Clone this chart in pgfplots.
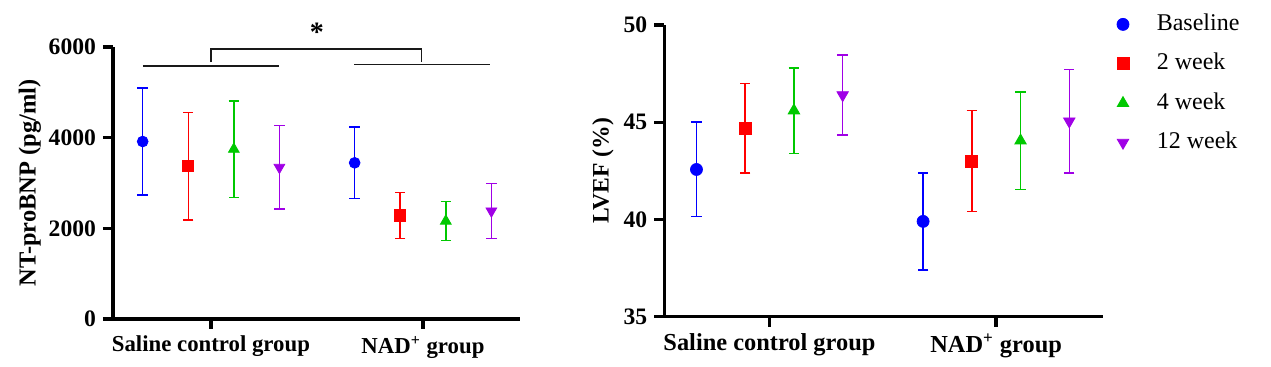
\documentclass[border=0pt]{standalone}
\usepackage{fontspec}
\setmainfont{Liberation Serif}
\usepackage{pgfplots}
\pgfplotsset{compat=1.18}
\definecolor{cB}{RGB}{0,0,255}
\definecolor{cR}{RGB}{255,0,0}
\definecolor{cG}{RGB}{0,200,0}
\definecolor{cP}{RGB}{160,0,230}
\newcommand{\lblfont}{\bfseries\fontsize{11.8}{14}\selectfont}
\pgfplotsset{
  panel/.style={
    scale only axis, axis lines*=left,
    axis line style={-, line width=1.6pt, black},
    every tick/.style={line width=1.6pt, black},
    tick align=outside, major tick length=5pt,
    xtick={0,1}, xticklabels={Saline control group, NAD\textsuperscript{+} group},
    ticklabel style={font=\lblfont},
    /pgf/number format/assume math mode=true,
    /pgf/number format/set thousands separator={},
    ylabel style={font=\lblfont, anchor=center},
    clip=false,
  },
  ser/.style n args={4}{only marks, color=#1, mark=#2,
    mark options={fill=#1, draw=#1, mark size=#3, #4},
    /pgfplots/error bars/y dir=both, /pgfplots/error bars/y explicit,
    /pgfplots/error bars/error bar style={line width=0.75pt, #1},
    /pgfplots/error bars/error mark options={rotate=90, mark size=2.6pt, line width=0.75pt, #1, solid}},
}
\begin{document}
\begin{tikzpicture}
\useasboundingbox (0,0) rectangle (635.5pt,183.5pt);
% ---------- left panel ----------
\begin{axis}[panel, at={(56.5pt,24pt)}, anchor=south west,
  width=203.5pt, height=136pt,
  xmin=-0.462, xmax=1.458, ymin=0, ymax=6000, ytick={0,2000,4000,6000},
  x tick label style={font=\bfseries\fontsize{11.4}{14}\selectfont},
  ylabel={NT-proBNP (pg/ml)},
  ylabel style={at={(axis description cs:-0.204,0.5)}, font=\bfseries\fontsize{12.2}{15}\selectfont}]
\addplot[ser={cB}{*}{2.7pt}{}] coordinates {(-0.322,3915) +- (0,1180) (0.678,3445) +- (0,790)};
\addplot[ser={cR}{square*}{2.8pt}{}] coordinates {(-0.107,3370) +- (0,1185) (0.893,2283) +- (0,511)};
\addplot[ser={cG}{triangle*}{3.1pt}{}] coordinates {(0.108,3745) +- (0,1060) (1.108,2160) +- (0,430)};
\addplot[ser={cP}{triangle*}{3.1pt}{rotate=180}] coordinates {(0.323,3345) +- (0,923) (1.323,2382) +- (0,603)};
\draw[line width=0.65pt, black!90] (axis cs:-0.321,5581) -- (axis cs:0.321,5581);
\draw[line width=0.65pt, black!90] (axis cs:0.675,5618) -- (axis cs:1.316,5618);
\draw[line width=0.65pt, black!90] (axis cs:0,5669) -- (axis cs:0,5956) -- (axis cs:0.994,5956) -- (axis cs:0.994,5669);
\node[anchor=base, font=\bfseries\fontsize{14}{16}\selectfont] at (axis cs:0.5,6130) {*};
\end{axis}
% ---------- right panel ----------
\begin{axis}[panel, at={(332.15pt,25.15pt)}, anchor=south west,
  width=219.15pt, height=145.85pt,
  xmin=-0.464, xmax=1.470, ymin=35, ymax=50, ytick={35,40,45,50},
  x tick label style={font=\bfseries\fontsize{12.2}{14}\selectfont},
  ylabel={LVEF (\%)},
  ylabel style={at={(axis description cs:-0.14,0.5)}},
  legend style={draw=none, fill=none, at={(axis description cs:1,1)}, anchor=north west,
    xshift=4pt, yshift=10pt, row sep=4.7pt, font=\fontsize{12}{14}\selectfont,
    nodes={text height=8.5pt, text depth=2.5pt}},
  legend cell align=left,
  legend image code/.code={\draw[mark repeat=2,mark phase=2,#1,mark size=2.7pt] plot coordinates {(-0.3cm,0cm) (0cm,0cm) (0.3cm,0cm)}; \path (-2.7pt,0pt) (14.7pt,0pt);}]
\addplot[ser={cB}{*}{3pt}{}] coordinates {(-0.322,42.57) +- (0,2.43) (0.678,39.9) +- (0,2.5)};
\addplot[ser={cR}{square*}{3pt}{}] coordinates {(-0.107,44.7) +- (0,2.3) (0.893,43.0) +- (0,2.6)};
\addplot[ser={cG}{triangle*}{3.3pt}{}] coordinates {(0.108,45.6) +- (0,2.2) (1.108,44.05) +- (0,2.5)};
\addplot[ser={cP}{triangle*}{3.3pt}{rotate=180}] coordinates {(0.323,46.4) +- (0,2.05) (1.323,45.05) +- (0,2.65)};
\legend{Baseline, 2 week, 4 week, 12 week}
\end{axis}
\end{tikzpicture}
\end{document}
